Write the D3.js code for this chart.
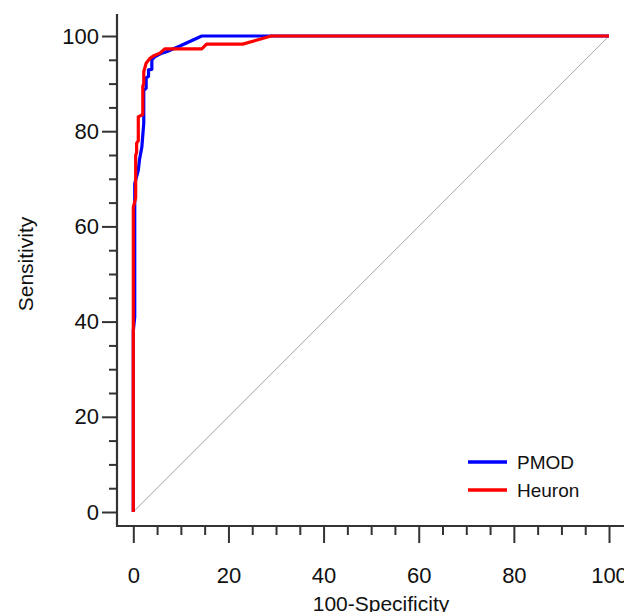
<!DOCTYPE html>
<html>
<head>
<meta charset="utf-8">
<script src="https://cdn.jsdelivr.net/npm/d3@7"></script>
<style>
  html, body { margin: 0; padding: 0; background: #fff; }
  svg { display: block; font-family: "Liberation Sans", Arial, sans-serif; }
</style>
</head>
<body>
<div id="chart-container"></div>
<script>
"use strict"

// ROC curves: [100-Specificity, Sensitivity]
const pmodFpr  = [0, 0, 0.3, 0.3, 1.05, 1.3, 1.8, 2.2, 2.2, 2.7, 2.7, 3.2, 3.2, 3.9, 3.9, 4.6, 6.0, 7.0, 9.8, 14.4, 100];
const pmodSens = [0, 38, 41, 69, 71.8, 74, 76.7, 81.7, 88.6, 89, 91.2, 91.5, 92.9, 93, 95, 95.7, 96.4, 96.7, 97.9, 100, 100];

const heuronFpr  = [0, 0, 0.5, 0.5, 0.7, 0.7, 1.05, 1.05, 2.0, 2.0, 2.2, 2.2, 2.7, 3.5, 4.2, 5.6, 6.6, 14.4, 15.4, 23, 29, 100];
const heuronSens = [0, 64, 66, 75, 75.5, 77.5, 78, 83, 83.5, 89.5, 90, 92.5, 94.3, 95.3, 95.8, 96.4, 97.3, 97.3, 98.3, 98.3, 100, 100];

const seriesNames = ["PMOD", "Heuron"];
const seriesColors = ["#0000ff", "#ff0000"];

const majorTicks = [0, 20, 40, 60, 80, 100];
const minorTicks = [5, 10, 15, 25, 30, 35, 45, 50, 55, 65, 70, 75, 85, 90, 95];

const xTitle = "100-Specificity";
const yTitle = "Sensitivity";

document.addEventListener('DOMContentLoaded', function(){
  drawChart();
});

function drawChart(){
  let svgWidth = 624;
  let svgHeight = 612;
  let axisX = 117;   // where the y axis sits
  let axisY = 526;   // where the x axis sits

  const svg = d3.select('#chart-container')
    .append('svg')
    .attr('width', svgWidth)
    .attr('height', svgHeight);

  let xScale = d3.scaleLinear().domain([0, 100]).range([133.3, 609]);
  let yScale = d3.scaleLinear().domain([0, 100]).range([512, 36]);

  const axisColor = "#333";

  // axis lines (they run past the data range)
  svg.append('line')
    .attr('x1', axisX).attr('x2', axisX)
    .attr('y1', 14).attr('y2', axisY + 1)
    .attr('stroke', axisColor).attr('stroke-width', 2.2);
  svg.append('line')
    .attr('x1', axisX - 1).attr('x2', svgWidth)
    .attr('y1', axisY).attr('y2', axisY)
    .attr('stroke', axisColor).attr('stroke-width', 2.2);

  // y axis
  const yMajor = svg.append('g')
    .attr('transform', 'translate(' + axisX + ',0)')
    .call(d3.axisLeft(yScale).tickValues(majorTicks).tickSize(15).tickPadding(3));
  const yMinor = svg.append('g')
    .attr('transform', 'translate(' + axisX + ',0)')
    .call(d3.axisLeft(yScale).tickValues(minorTicks).tickSize(8).tickFormat(''));

  // x axis
  const xMajor = svg.append('g')
    .attr('transform', 'translate(0,' + axisY + ')')
    .call(d3.axisBottom(xScale).tickValues(majorTicks).tickSize(17).tickPadding(24));
  const xMinor = svg.append('g')
    .attr('transform', 'translate(0,' + axisY + ')')
    .call(d3.axisBottom(xScale).tickValues(minorTicks).tickSize(9).tickFormat(''));

  [yMajor, yMinor, xMajor, xMinor].forEach(g => {
    g.select('.domain').remove();
    g.selectAll('.tick line').attr('stroke', axisColor).attr('stroke-width', 2);
    g.selectAll('.tick text')
      .attr('fill', '#111')
      .style('font-size', '22px');
  });

  // axis titles
  svg.append('text')
    .attr('x', 381)
    .attr('y', 611)
    .attr('text-anchor', 'middle')
    .attr('fill', '#111')
    .style('font-size', '21px')
    .text(xTitle);

  svg.append('text')
    .attr('transform', 'translate(33,264) rotate(-90)')
    .attr('text-anchor', 'middle')
    .attr('fill', '#111')
    .style('font-size', '21px')
    .text(yTitle);

  // reference diagonal
  svg.append('line')
    .attr('x1', xScale(0)).attr('y1', yScale(0))
    .attr('x2', xScale(100)).attr('y2', yScale(100))
    .attr('stroke', '#a6a6a6').attr('stroke-width', 1);

  const line = d3.line()
    .x(d => xScale(d[0]))
    .y(d => yScale(d[1]));

  const series = [
    d3.zip(pmodFpr, pmodSens),
    d3.zip(heuronFpr, heuronSens)
  ];

  series.forEach((pts, i) => {
    svg.append('path')
      .datum(pts)
      .attr('d', line)
      .attr('fill', 'none')
      .attr('stroke', seriesColors[i])
      .attr('stroke-width', 3.2)
      .attr('stroke-linejoin', 'round');
  });

  // legend
  const legend = svg.append('g').attr('transform', 'translate(468,462)');
  seriesNames.forEach((name, i) => {
    legend.append('line')
      .attr('x1', 0).attr('x2', 39)
      .attr('y1', i * 28).attr('y2', i * 28)
      .attr('stroke', seriesColors[i])
      .attr('stroke-width', 3.5);
    legend.append('text')
      .attr('x', 49)
      .attr('y', i * 28 + 7)
      .attr('fill', '#111')
      .style('font-size', '19px')
      .text(name);
  });
}
</script>
</body>
</html>
